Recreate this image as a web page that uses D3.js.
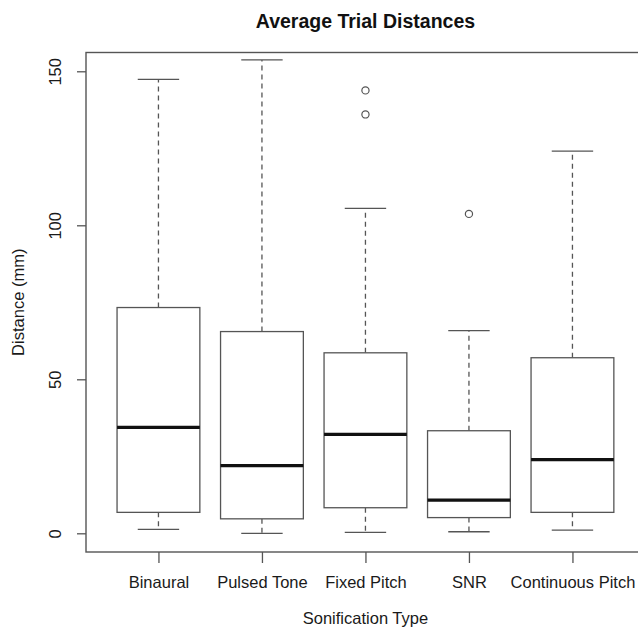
<!DOCTYPE html>
<html>
<head>
<meta charset="utf-8">
<script src="https://cdn.jsdelivr.net/npm/d3@7"></script>
<style>
  html, body { margin: 0; padding: 0; background: #fff; }
  svg { display: block; font-family: "Liberation Sans", Arial, Helvetica, sans-serif; }
</style>
</head>
<body>
<svg id="chart" width="638" height="628"></svg>
<script>
// Five-number summaries per sonification type (mm)
const categories = ["Binaural", "Pulsed Tone", "Fixed Pitch", "SNR", "Continuous Pitch"];
const whiskerLow  = [1.3, 0.0, 0.3, 0.5, 1.0];
const q1          = [6.8, 4.7, 8.3, 5.1, 6.8];
const medians     = [34.4, 22.0, 32.1, 10.8, 23.9];
const q3          = [73.3, 65.5, 58.6, 33.3, 57.0];
const whiskerHigh = [147.4, 153.7, 105.5, 65.8, 124.1];
const outliers    = [[], [], [136.0, 143.8], [103.7], []];
const yTicks      = [0, 50, 100, 150];

const svg = d3.select("#chart");
const lineColor = "#555";
const textColor = "#1a1a1a";
const axisFont = 16.5;

const plotLeft = 86, plotTop = 52.5, plotBottom = 552;
const step = 103.5;
const x = d3.scaleLinear().domain([0.3, 5.7]).range([plotLeft, plotLeft + 5.4 * step]);
const y = d3.scaleLinear().domain([-6.07, 156.1]).range([plotBottom, plotTop]);

const halfBox = 0.4 * step;
const halfCap = 0.2 * step;

const rows = categories.map((c, i) => ({
  name: c, pos: i + 1,
  lo: whiskerLow[i], q1: q1[i], med: medians[i], q3: q3[i], hi: whiskerHigh[i],
  out: outliers[i]
}));

const g = svg.append("g");

// whiskers (dashed)
g.append("g").selectAll("line").data(rows).join("line")
  .attr("x1", d => x(d.pos)).attr("x2", d => x(d.pos))
  .attr("y1", d => y(d.q3)).attr("y2", d => y(d.hi))
  .attr("stroke", lineColor).attr("stroke-width", 1.3).attr("stroke-dasharray", "5,4");
g.append("g").selectAll("line").data(rows).join("line")
  .attr("x1", d => x(d.pos)).attr("x2", d => x(d.pos))
  .attr("y1", d => y(d.q1)).attr("y2", d => y(d.lo))
  .attr("stroke", lineColor).attr("stroke-width", 1.3).attr("stroke-dasharray", "5,4");

// whisker caps
["hi", "lo"].forEach(k => {
  g.append("g").selectAll("line").data(rows).join("line")
    .attr("x1", d => x(d.pos) - halfCap).attr("x2", d => x(d.pos) + halfCap)
    .attr("y1", d => y(d[k])).attr("y2", d => y(d[k]))
    .attr("stroke", lineColor).attr("stroke-width", 1.3);
});

// boxes
g.append("g").selectAll("rect").data(rows).join("rect")
  .attr("x", d => x(d.pos) - halfBox).attr("width", 2 * halfBox)
  .attr("y", d => y(d.q3)).attr("height", d => y(d.q1) - y(d.q3))
  .attr("fill", "#fff").attr("stroke", lineColor).attr("stroke-width", 1.3);

// medians
g.append("g").selectAll("line").data(rows).join("line")
  .attr("x1", d => x(d.pos) - halfBox).attr("x2", d => x(d.pos) + halfBox)
  .attr("y1", d => y(d.med)).attr("y2", d => y(d.med))
  .attr("stroke", "#111").attr("stroke-width", 3.2);

// outliers
const outPts = rows.flatMap(d => d.out.map(v => ({ pos: d.pos, v })));
g.append("g").selectAll("circle").data(outPts).join("circle")
  .attr("cx", d => x(d.pos)).attr("cy", d => y(d.v)).attr("r", 3.6)
  .attr("fill", "none").attr("stroke", lineColor).attr("stroke-width", 1.2);

// plot frame
svg.append("rect")
  .attr("x", plotLeft).attr("y", plotTop)
  .attr("width", x(5.7) - plotLeft).attr("height", plotBottom - plotTop)
  .attr("fill", "none").attr("stroke", lineColor).attr("stroke-width", 1.4);

// y axis
const yAxis = svg.append("g").attr("transform", `translate(${plotLeft},0)`)
  .call(d3.axisLeft(y).tickValues(yTicks).tickSize(9).tickPadding(0).tickFormat(d3.format("d")));
yAxis.select(".domain").remove();
yAxis.selectAll(".tick line").attr("stroke", lineColor).attr("stroke-width", 1.3);
yAxis.selectAll(".tick text")
  .attr("x", 0).attr("y", 0).attr("dy", null)
  .attr("text-anchor", "middle").attr("dominant-baseline", "central")
  .attr("transform", "translate(-31,0) rotate(-90)")
  .attr("font-size", axisFont).attr("fill", textColor)
  .style("font-family", "'Liberation Sans', Arial, sans-serif");

// x axis
const xAxis = svg.append("g").attr("transform", `translate(0,${plotBottom})`)
  .call(d3.axisBottom(x).tickValues(rows.map(d => d.pos)).tickSize(11).tickPadding(0)
    .tickFormat((d, i) => categories[i]));
xAxis.select(".domain").remove();
xAxis.selectAll(".tick line").attr("stroke", lineColor).attr("stroke-width", 1.3);
xAxis.selectAll(".tick text")
  .attr("y", 30).attr("dy", null).attr("dominant-baseline", "central")
  .attr("font-size", axisFont).attr("fill", textColor)
  .style("font-family", "'Liberation Sans', Arial, sans-serif");

// titles
const cx = (plotLeft + x(5.7)) / 2;
svg.append("text").attr("x", cx).attr("y", 21).attr("text-anchor", "middle")
  .attr("dominant-baseline", "central").attr("font-size", 19.5).attr("font-weight", "bold")
  .attr("fill", "#111").text("Average Trial Distances");
svg.append("text").attr("x", cx).attr("y", 617.5).attr("text-anchor", "middle")
  .attr("dominant-baseline", "central").attr("font-size", axisFont).attr("fill", textColor)
  .text("Sonification Type");
svg.append("text").attr("transform", `translate(18,${(plotTop + plotBottom) / 2}) rotate(-90)`)
  .attr("text-anchor", "middle").attr("dominant-baseline", "central")
  .attr("font-size", axisFont).attr("fill", textColor).text("Distance (mm)");
</script>
</body>
</html>
